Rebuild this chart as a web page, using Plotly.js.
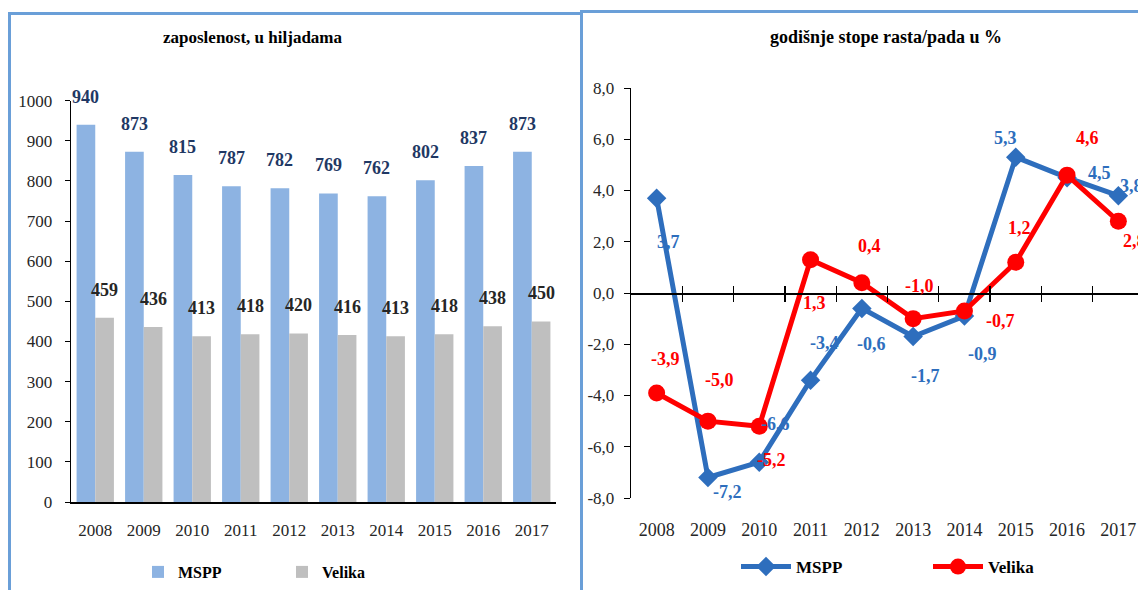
<!DOCTYPE html>
<html>
<head>
<meta charset="utf-8">
<script src="https://cdn.plot.ly/plotly-3.0.1.min.js"></script>
<style>html,body{margin:0;padding:0;background:#fff;overflow:hidden;}#chart{width:1138px;height:590px;}</style>
</head>
<body>
<div id="chart"></div>
<script>
// ---- data ----
const years = ['2008','2009','2010','2011','2012','2013','2014','2015','2016','2017'];
const msppLevel = [940, 873, 815, 787, 782, 769, 762, 802, 837, 873];
const velikaLevel = [459, 436, 413, 418, 420, 416, 413, 418, 438, 450];
const msppGrowth = [3.7, -7.2, -6.6, -3.4, -0.6, -1.7, -0.9, 5.3, 4.5, 3.8];
const velikaGrowth = [-3.9, -5.0, -5.2, 1.3, 0.4, -1.0, -0.7, 1.2, 4.6, 2.8];
const levelTicks = [0, 100, 200, 300, 400, 500, 600, 700, 800, 900, 1000];
const growthTicks = [-8, -6, -4, -2, 0, 2, 4, 6, 8];
const seriesNames = ['MSPP', 'Velika'];
const leftTitle = 'zaposlenost, u hiljadama';
const rightTitle = 'godišnje stope rasta/pada u %';

// ---- style ----
const W = 1138, H = 590;
const FONT = 'Liberation Serif, Times New Roman, serif';
const BAR_BLUE = '#8DB3E2', BAR_GRAY = '#BFBFBF';
const LINE_BLUE = '#2E6EBD', LINE_RED = '#FF0000';
const fmt = v => v.toFixed(1).replace('.', ',');
// label offsets (px) for the growth chart, per point
const msppDx = [12, 20, 16, 14, 10, 12, 18, -10, 32, 13];
const msppDy = [-44, -14, 38, 37, -36, -39, -38, 19, 5, 10];
const velDx = [9, 12, 12, 4, 8, 6, 36, 4, 20, 16];
const velDy = [34, 41, -34, -43, 37, 33, -10, 34, 37, -20];

const px = x => x / W;
const py = y => (H - y) / H;

const lx = [px(71), px(556)], ly = [py(502), py(100.7)];
const rx = [px(631), 1], ry = [py(498), py(88)];
const catW = 51.3;
const lRange = [-0.5, years.length - 0.5];
const rRange = [-0.5, -0.5 + (W - 631) / catW];
const bargap = 0.23;
const barShift = (1 - bargap) / 4 * ((556 - 71) / years.length);

const traces = [
  {type: 'bar', x: years, y: msppLevel, name: seriesNames[0], marker: {color: BAR_BLUE},
   xaxis: 'x', yaxis: 'y', legend: 'legend', hoverinfo: 'skip'},
  {type: 'bar', x: years, y: velikaLevel, name: seriesNames[1], marker: {color: BAR_GRAY},
   xaxis: 'x', yaxis: 'y', legend: 'legend', hoverinfo: 'skip'},
  {type: 'scatter', mode: 'lines+markers', x: years, y: msppGrowth, name: seriesNames[0],
   line: {color: LINE_BLUE, width: 5}, marker: {symbol: 'diamond', size: 15, color: LINE_BLUE},
   xaxis: 'x2', yaxis: 'y2', legend: 'legend2', hoverinfo: 'skip'},
  {type: 'scatter', mode: 'lines+markers', x: years, y: velikaGrowth, name: seriesNames[1],
   line: {color: LINE_RED, width: 5}, marker: {symbol: 'circle', size: 17, color: LINE_RED},
   xaxis: 'x2', yaxis: 'y2', legend: 'legend2', hoverinfo: 'skip'},
  {type: 'scatter', x: [], y: [], xaxis: 'x3', yaxis: 'y2', showlegend: false, hoverinfo: 'skip'},
  {type: 'scatter', x: [], y: [], xaxis: 'x4', yaxis: 'y2', showlegend: false, hoverinfo: 'skip'}
];

const annotations = [];
years.forEach((yr, i) => {
  annotations.push({x: i, y: msppLevel[i], xref: 'x', yref: 'y', text: String(msppLevel[i]),
    showarrow: false, xshift: -barShift, yshift: 28, yanchor: 'middle',
    font: {family: FONT, size: 18, color: '#1F3864', weight: 'bold'}});
  annotations.push({x: i, y: velikaLevel[i], xref: 'x', yref: 'y', text: String(velikaLevel[i]),
    showarrow: false, xshift: barShift, yshift: 28, yanchor: 'middle',
    font: {family: FONT, size: 18, color: '#262626', weight: 'bold'}});
  annotations.push({x: i, y: msppGrowth[i], xref: 'x2', yref: 'y2', text: fmt(msppGrowth[i]),
    showarrow: false, xshift: msppDx[i], yshift: msppDy[i], yanchor: 'middle',
    font: {family: FONT, size: 18, color: LINE_BLUE, weight: 'bold'}});
  annotations.push({x: i, y: velikaGrowth[i], xref: 'x2', yref: 'y2', text: fmt(velikaGrowth[i]),
    showarrow: false, xshift: velDx[i], yshift: velDy[i], yanchor: 'middle',
    font: {family: FONT, size: 18, color: LINE_RED, weight: 'bold'}});
});
annotations.push({x: px(252), y: py(38), xref: 'paper', yref: 'paper', text: leftTitle, showarrow: false,
  xanchor: 'center', yanchor: 'middle', font: {family: FONT, size: 17, color: '#000', weight: 'bold'}});
annotations.push({x: px(886), y: py(37), xref: 'paper', yref: 'paper', text: rightTitle, showarrow: false,
  xanchor: 'center', yanchor: 'middle', font: {family: FONT, size: 18, color: '#000', weight: 'bold'}});

const tickFont = {family: FONT, size: 17, color: '#262626'};
const overlayBase = {type: 'linear', overlaying: 'x2', anchor: 'free', position: (ry[0] + ry[1]) / 2,
  range: rRange, tickvals: years.slice(0, -1).map((_, i) => i + 0.5), showticklabels: false,
  showgrid: false, zeroline: false, tickcolor: '#000', tickwidth: 1.3, ticklen: 7};

const layout = {
  width: W, height: H, margin: {l: 0, r: 0, t: 0, b: 0, autoexpand: false},
  paper_bgcolor: '#fff', plot_bgcolor: 'rgba(0,0,0,0)',
  barmode: 'group', bargap: bargap, bargroupgap: 0,
  font: {family: FONT},
  xaxis: {domain: lx, anchor: 'y', type: 'category', range: lRange, showline: true, linecolor: '#000', linewidth: 1.5,
    ticks: '', tickfont: tickFont, ticklabelstandoff: 12, showgrid: false},
  yaxis: {domain: ly, anchor: 'x', range: [0, 1000], tickvals: levelTicks, ticktext: levelTicks.map(String),
    showline: true, linecolor: '#000', linewidth: 1.3, ticks: 'outside', ticklen: 5, tickcolor: '#000',
    tickfont: tickFont, ticklabelstandoff: 9, showgrid: false, zeroline: false},
  xaxis2: {domain: rx, anchor: 'y2', type: 'category', range: rRange, showline: false, ticks: '',
    tickfont: {family: FONT, size: 18, color: '#262626'}, ticklabelstandoff: 19, showgrid: false, zeroline: false},
  yaxis2: {domain: ry, anchor: 'x2', range: [-8, 8], tickvals: growthTicks, ticktext: growthTicks.map(fmt),
    showline: true, linecolor: '#000', linewidth: 1.3, ticks: 'outside', ticklen: 6, tickcolor: '#000',
    tickfont: tickFont, ticklabelstandoff: 6, showgrid: false, zeroline: false},
  xaxis3: Object.assign({}, overlayBase, {ticks: 'outside', showline: true, linecolor: '#000', linewidth: 1.5}),
  xaxis4: Object.assign({}, overlayBase, {ticks: 'inside', showline: false}),
  showlegend: true,
  legend: {orientation: 'h', x: px(138), y: py(572), xanchor: 'left', yanchor: 'middle',
    font: {family: FONT, size: 16, color: '#000', weight: 'bold'}, bgcolor: 'rgba(0,0,0,0)',
    entrywidth: 99, traceorder: 'normal'},
  legend2: {orientation: 'h', x: px(736), y: py(567), xanchor: 'left', yanchor: 'middle',
    font: {family: FONT, size: 17, color: '#000', weight: 'bold'}, bgcolor: 'rgba(0,0,0,0)',
    entrywidth: 127, itemwidth: 50, traceorder: 'normal'},
  annotations: annotations,
  shapes: [
    {type: 'rect', xref: 'paper', yref: 'paper', x0: px(9.5), x1: px(581.5), y0: -0.05, y1: py(13.5),
     line: {color: '#6A9FD8', width: 3}, fillcolor: 'rgba(0,0,0,0)', layer: 'above'},
    {type: 'rect', xref: 'paper', yref: 'paper', x0: px(581.5), x1: px(1150), y0: -0.05, y1: py(11.5),
     line: {color: '#6A9FD8', width: 3}, fillcolor: 'rgba(0,0,0,0)', layer: 'above'}
  ]
};

Plotly.newPlot('chart', traces, layout, {staticPlot: true, displayModeBar: false});
</script>
</body>
</html>
